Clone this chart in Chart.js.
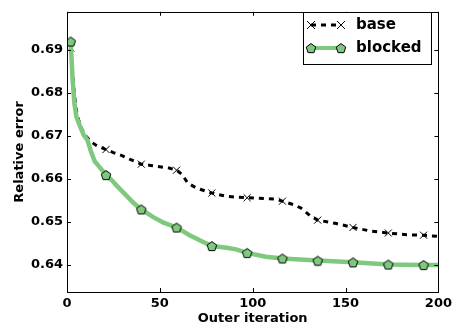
<!DOCTYPE html>
<html>
<head>
<meta charset="UTF-8">
<title>Relative error vs outer iteration</title>
<script src="https://cdn.jsdelivr.net/npm/chart.js"></script>
<style>
  html, body { margin: 0; padding: 0; background: #fff; }
  #wrap { width: 456px; height: 328px; }
</style>
</head>
<body>
<div id="wrap"><canvas id="errChart" width="456" height="328"></canvas></div>
<script>
  // values
  const baseIter = [2, 3, 4, 5, 6, 8, 10, 13, 16, 21, 25, 29, 34, 40, 45, 50, 55, 59, 62, 65, 70, 78, 86, 97, 106, 112, 116, 122, 126, 131, 135, 145, 154, 163, 173, 183, 192, 200];
  const baseErr = [0.6904, 0.6850, 0.6795, 0.6760, 0.6740, 0.6715, 0.6700, 0.6686, 0.6677, 0.6668, 0.6661, 0.6655, 0.6645, 0.6634, 0.6631, 0.6628, 0.6625, 0.6620, 0.6610, 0.6590, 0.6578, 0.6567, 0.6559, 0.6556, 0.6554, 0.6553, 0.6548, 0.6540, 0.6532, 0.6514, 0.6504, 0.6496, 0.6487, 0.6479, 0.6474, 0.6470, 0.6469, 0.6466];

  const blockedIter = [2, 3, 4, 5, 7, 9, 11, 13, 15, 17, 21, 24, 27, 32, 36, 40, 46, 52, 59, 66, 72, 78, 86, 91, 97, 107, 116, 135, 154, 173, 192, 200];
  const blockedErr = [0.6919, 0.6830, 0.6775, 0.6745, 0.6722, 0.6702, 0.6690, 0.6662, 0.6640, 0.6630, 0.6609, 0.6597, 0.6583, 0.6561, 0.6543, 0.6529, 0.6512, 0.6498, 0.6487, 0.6469, 0.6456, 0.6444, 0.6440, 0.6436, 0.6428, 0.6419, 0.6415, 0.6410, 0.6406, 0.6401, 0.6400, 0.6400];

  const markerIters = [2, 21, 40, 59, 78, 97, 116, 135, 154, 173, 192];
  const seriesNames = ['base', 'blocked'];
  const xTicks = [0, 50, 100, 150, 200];
  const yTicks = [0.64, 0.65, 0.66, 0.67, 0.68, 0.69];

  const GREEN = '#7fc97f';
  const FONT = 'DejaVu Sans';

  function pentagon(size, fill) {
    const c = document.createElement('canvas');
    c.width = c.height = size;
    const g = c.getContext('2d');
    const r = size / 2 - 1;
    g.beginPath();
    for (let i = 0; i < 5; i++) {
      const a = -Math.PI / 2 + i * 2 * Math.PI / 5;
      const px = size / 2 + r * Math.cos(a), py = size / 2 + 0.6 + r * Math.sin(a);
      if (i) g.lineTo(px, py); else g.moveTo(px, py);
    }
    g.closePath();
    g.fillStyle = fill;
    g.fill();
    g.lineWidth = 1;
    g.strokeStyle = '#000';
    g.stroke();
    return c;
  }
  const penta = pentagon(12, GREEN);

  const toPoints = (xs, ys) => xs.map((x, i) => ({ x: x, y: ys[i] }));
  const markerRadius = r => ctx => (ctx.raw && markerIters.includes(ctx.raw.x)) ? r : 0;

  // inward ticks on all four sides + frame + legend
  const decor = {
    id: 'decor',
    afterDraw(chart) {
      const { ctx, chartArea: a } = chart;
      const xs = chart.scales.x, ys = chart.scales.y;
      ctx.save();
      ctx.strokeStyle = '#000';
      ctx.lineWidth = 1;
      ctx.beginPath();
      xTicks.forEach(v => {
        const px = Math.round(xs.getPixelForValue(v)) + 0.5;
        ctx.moveTo(px, a.bottom); ctx.lineTo(px, a.bottom - 4);
        ctx.moveTo(px, a.top); ctx.lineTo(px, a.top + 4);
      });
      yTicks.forEach(v => {
        const py = Math.round(ys.getPixelForValue(v)) + 0.5;
        ctx.moveTo(a.left, py); ctx.lineTo(a.left + 4, py);
        ctx.moveTo(a.right, py); ctx.lineTo(a.right - 4, py);
      });
      ctx.stroke();
      ctx.strokeRect(Math.round(a.left) + 0.5, Math.round(a.top) + 0.5, Math.round(a.right - a.left), Math.round(a.bottom - a.top));

      // legend box
      const lx = 303.5, ly = 12.5, lw = 128, lh = 52;
      ctx.fillStyle = '#fff';
      ctx.fillRect(lx, ly, lw, lh);
      ctx.strokeRect(lx, ly, lw, lh);

      // base entry
      ctx.lineWidth = 3;
      ctx.setLineDash([5, 5]);
      ctx.beginPath(); ctx.moveTo(311, 25); ctx.lineTo(341, 25); ctx.stroke();
      ctx.setLineDash([]);
      ctx.lineWidth = 1;
      [311, 341].forEach(cx => {
        ctx.beginPath();
        ctx.moveTo(cx - 4, 21); ctx.lineTo(cx + 4, 29);
        ctx.moveTo(cx - 4, 29); ctx.lineTo(cx + 4, 21);
        ctx.stroke();
      });
      // blocked entry
      ctx.strokeStyle = GREEN;
      ctx.lineWidth = 4;
      ctx.beginPath(); ctx.moveTo(311, 48); ctx.lineTo(341, 48); ctx.stroke();
      [311, 341].forEach(cx => ctx.drawImage(penta, cx - 6, 42));

      ctx.fillStyle = '#000';
      ctx.font = 'bold 15px "' + FONT + '"';
      ctx.textBaseline = 'middle';
      ctx.fillText(seriesNames[0], 356, 25);
      ctx.fillText(seriesNames[1], 356, 48);
      ctx.restore();
    }
  };

  const tickFont = { family: FONT, size: 13, weight: 'bold' };

  new Chart(document.getElementById('errChart'), {
    type: 'line',
    data: {
      datasets: [
        {
          label: seriesNames[1],
          data: toPoints(blockedIter, blockedErr),
          borderColor: GREEN,
          borderWidth: 4.5,
          pointStyle: penta,
          pointRadius: markerRadius(6),
          order: 0
        },
        {
          label: seriesNames[0],
          data: toPoints(baseIter, baseErr),
          borderColor: '#000',
          borderWidth: 3,
          borderDash: [5, 5],
          borderCapStyle: 'butt',
          pointStyle: 'crossRot',
          pointRadius: markerRadius(5),
          pointBorderColor: '#000',
          pointBorderWidth: 1,
          order: 1
        }
      ]
    },
    options: {
      responsive: false,
      animation: false,
      layout: { padding: { top: 4, right: 17, left: 0, bottom: 0 } },
      plugins: { legend: { display: false }, tooltip: { enabled: false } },
      scales: {
        x: {
          type: 'linear',
          min: 0, max: 200,
          grid: { display: false, drawTicks: false },
          border: { display: false },
          afterBuildTicks: s => { s.ticks = xTicks.map(v => ({ value: v })); },
          afterFit: s => { s.height = 36; },
          ticks: { font: tickFont, color: '#000', padding: 4, maxRotation: 0 },
          title: { display: true, text: 'Outer iteration', font: tickFont, color: '#000', padding: { top: 0, bottom: 2 } }
        },
        y: {
          min: 0.6337, max: 0.6988,
          grid: { display: false, drawTicks: false },
          border: { display: false },
          afterBuildTicks: s => { s.ticks = yTicks.map(v => ({ value: v })); },
          afterFit: s => { s.width = 67; },
          ticks: { font: tickFont, color: '#000', padding: 4, callback: v => v.toFixed(2) },
          title: { display: true, text: 'Relative error', font: tickFont, color: '#000', padding: { top: 12, bottom: 0 } }
        }
      }
    },
    plugins: [decor]
  });
</script>
</body>
</html>
